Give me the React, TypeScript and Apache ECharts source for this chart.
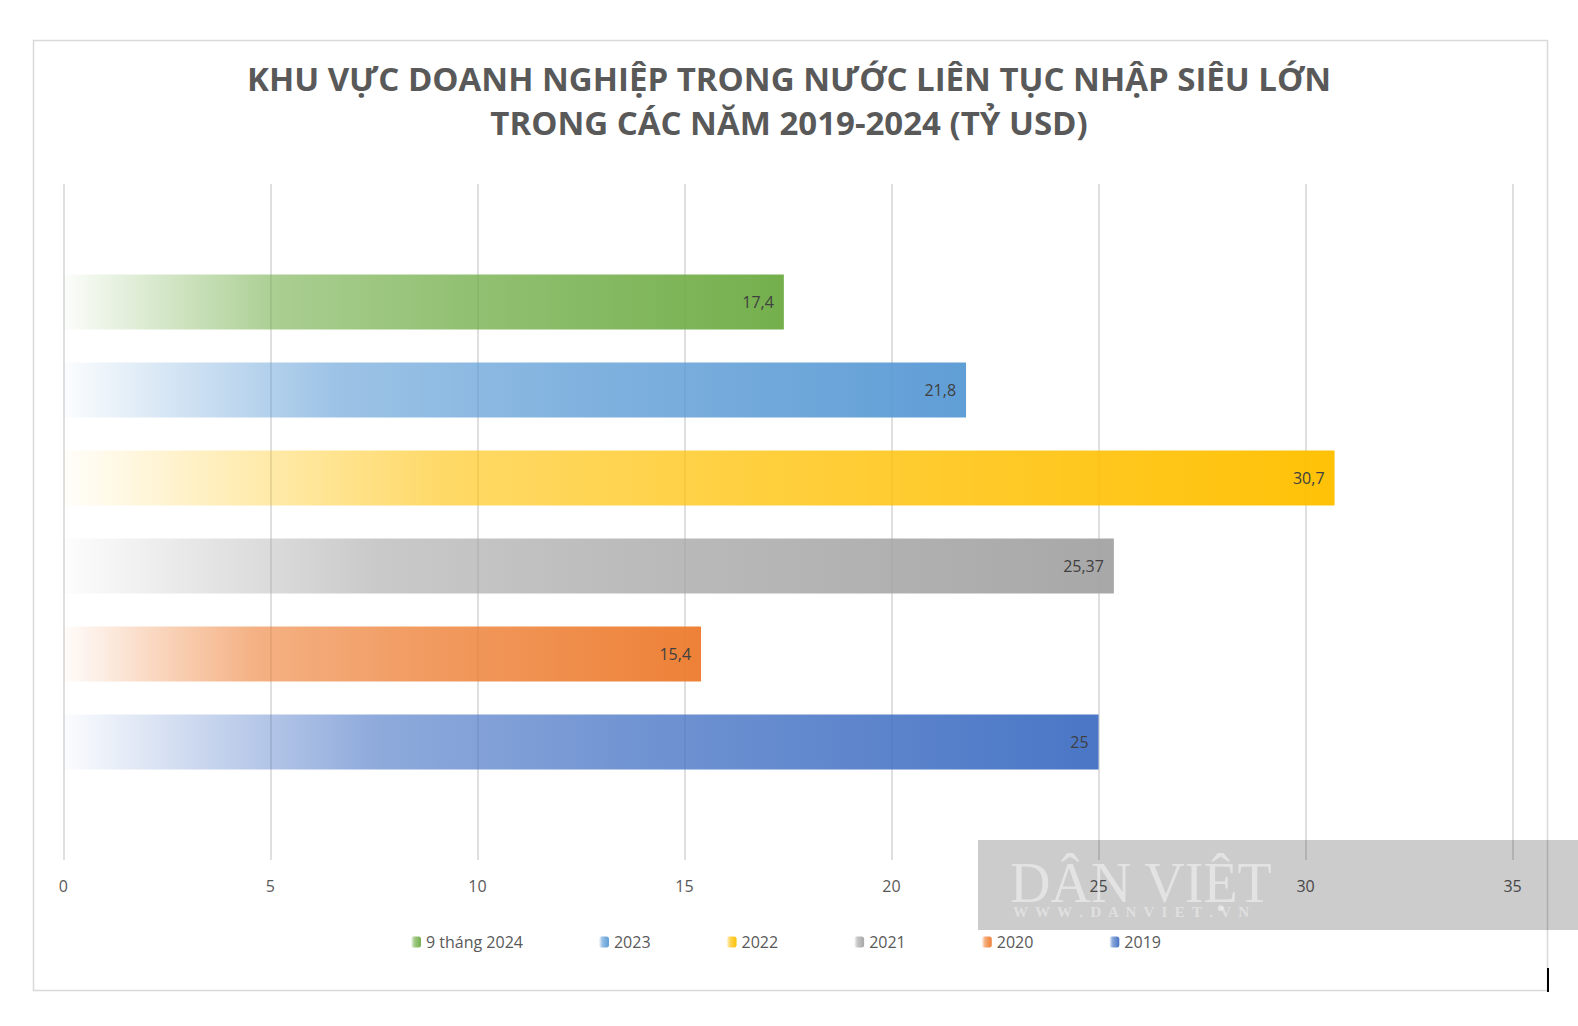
import React, { useEffect, useRef } from "react";
import * as echarts from "echarts";

const seriesNames = ["9 tháng 2024", "2023", "2022", "2021", "2020", "2019"];
const seriesValues = [17.4, 21.8, 30.7, 25.37, 15.4, 25];
const seriesColors = ["#70AD47", "#5B9BD5", "#FFC000", "#A5A5A5", "#ED7D31", "#4472C4"];
const categories = [""];
const axisMax = 35;
const axisInterval = 5;

function rgba(hex: string, a: number) {
  const n = parseInt(hex.slice(1), 16);
  return `rgba(${(n >> 16) & 255},${(n >> 8) & 255},${n & 255},${a})`;
}

function grad(hex: string) {
  return {
    type: "linear",
    x: 0,
    y: 0,
    x2: 1,
    y2: 0,
    colorStops: [
      { offset: 0, color: rgba(hex, 0.02) },
      { offset: 0.14, color: rgba(hex, 0.3) },
      { offset: 0.3, color: rgba(hex, 0.6) },
      { offset: 0.55, color: rgba(hex, 0.76) },
      { offset: 1, color: rgba(hex, 0.97) },
    ],
  };
}

export default function App() {
  const ref = useRef<HTMLDivElement>(null);
  useEffect(() => {
    document.body.style.margin = "0";
    const chart = echarts.init(ref.current!, null, { renderer: "svg" });
    const font = "'Open Sans', sans-serif";
    chart.setOption({
      animation: false,
      backgroundColor: "#ffffff",
      title: {
        text: "KHU VỰC DOANH NGHIỆP TRONG NƯỚC LIÊN TỤC NHẬP SIÊU LỚN\nTRONG CÁC NĂM 2019-2024 (TỶ USD)",
        left: "center",
        top: 56,
        padding: 0,
        textStyle: {
          fontFamily: font,
          fontSize: 33,
          fontWeight: "bold",
          color: "#595959",
          lineHeight: 44,
          align: "center",
        },
      },
      legend: {
        data: seriesNames,
        left: 406,
        top: 929,
        itemWidth: 10,
        itemHeight: 11,
        itemGap: 76,
        textStyle: { fontFamily: font, fontSize: 16, color: "#595959" },
      },
      grid: { left: 63.4, right: 65.4, top: 184, bottom: 166, containLabel: false },
      xAxis: {
        type: "value",
        min: 0,
        max: axisMax,
        interval: axisInterval,
        axisLine: { show: false },
        axisTick: { show: false },
        axisLabel: { fontFamily: font, fontSize: 16, color: "#595959", margin: 18 },
        splitLine: { lineStyle: { color: "#d4d4d4", width: 1.5 } },
      },
      yAxis: {
        type: "category",
        data: categories,
        axisLine: { show: false },
        axisTick: { show: false },
        axisLabel: { show: false },
      },
      series: seriesNames.map((name, i) => ({
        name,
        type: "bar",
        data: [seriesValues[i]],
        barWidth: 55,
        barGap: "60%",
        itemStyle: { color: grad(seriesColors[i]) },
        label: {
          show: true,
          position: "insideRight",
          distance: 10,
          fontFamily: font,
          fontSize: 16,
          color: "#404040",
          formatter: (p: any) => String(p.value).replace(".", ","),
        },
      })),
      graphic: [
        {
          type: "rect",
          shape: { x: 33.5, y: 40.5, width: 1514, height: 950 },
          style: { fill: "none", stroke: "#d9d9d9", lineWidth: 1.5 },
          z: -1,
        },
        {
          type: "rect",
          shape: { x: 978, y: 840, width: 600, height: 90 },
          style: { fill: "rgba(0,0,0,0.2)" },
          z: 100,
        },
        {
          type: "text",
          x: 1010,
          y: 855,
          style: {
            text: "DÂN VIỆT",
            fontFamily: "'Liberation Serif', serif",
            fontSize: 56,
            fill: "rgba(255,255,255,0.45)",
          },
          z: 101,
        },
        {
          type: "text",
          x: 1013,
          y: 904,
          style: {
            text: "W  W  W  .  D  A  N  V  I  E  T  .  V  N",
            fontFamily: "'Liberation Serif', serif",
            fontSize: 15,
            fontWeight: "bold",
            fill: "rgba(255,255,255,0.4)",
          },
          z: 101,
        },
        {
          type: "line",
          shape: { x1: 1548, y1: 968, x2: 1548, y2: 992 },
          style: { stroke: "#000000", lineWidth: 2 },
          z: 102,
        },
      ],
    });
    return () => chart.dispose();
  }, []);
  return <div ref={ref} style={{ width: 1578, height: 1026 }} />;
}
